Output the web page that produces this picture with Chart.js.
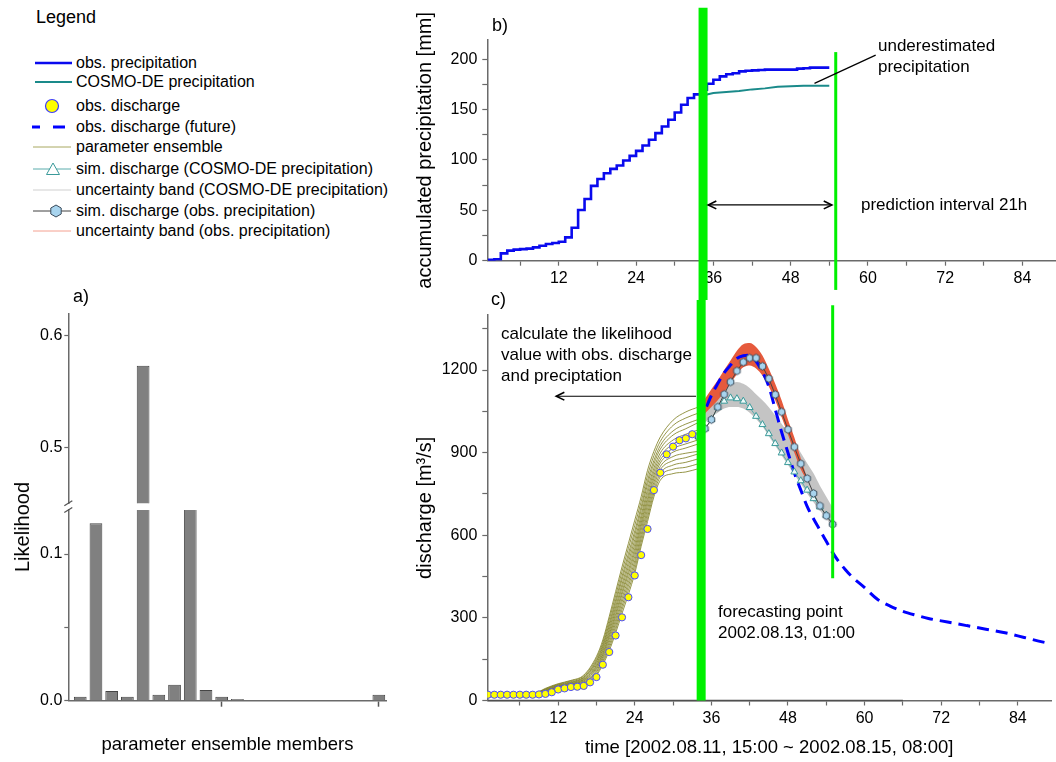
<!DOCTYPE html>
<html><head><meta charset="utf-8"><title>Parameter ensemble likelihood, precipitation and discharge forecast</title>
<script src="https://cdn.jsdelivr.net/npm/chart.js@4.4.1/dist/chart.umd.min.js"></script>
<style>
html,body{margin:0;padding:0;background:#fff;}
#wrap{position:relative;width:1056px;height:762px;overflow:hidden;font-family:'Liberation Sans',Arial,sans-serif;color:#000;}
#wrap canvas{position:absolute;}
.t{position:absolute;white-space:nowrap;font-size:17px;line-height:21px;}
.lg{position:absolute;left:76px;white-space:nowrap;font-size:16px;line-height:20px;}
.pl{position:absolute;white-space:nowrap;font-size:18px;line-height:21px;}
</style></head><body><div id="wrap">
<canvas id="cA1" width="400" height="226" style="left:0;top:290px"></canvas>
<canvas id="cA2" width="400" height="266" style="left:0;top:496px"></canvas>
<canvas id="cB" width="656" height="300" style="left:400px;top:0"></canvas>
<canvas id="cC" width="656" height="462" style="left:400px;top:300px"></canvas>

<svg width="80" height="245" style="position:absolute;left:0;top:0">
  <line x1="35" y1="63" x2="72" y2="63" stroke="#0a0aee" stroke-width="2.7"/>
  <line x1="35" y1="82" x2="72" y2="82" stroke="#1a8a8a" stroke-width="2"/>
  <circle cx="52" cy="106" r="6.5" fill="#ffff00" stroke="#3a3aff" stroke-width="1.2"/>
  <line x1="32" y1="127" x2="40" y2="127" stroke="#0000ff" stroke-width="3"/>
  <line x1="53" y1="127" x2="65" y2="127" stroke="#0000ff" stroke-width="3"/>
  <line x1="33" y1="147" x2="71" y2="147" stroke="#a8a860" stroke-width="1"/>
  <line x1="33" y1="169" x2="71" y2="169" stroke="#5aacac" stroke-width="1"/>
  <polygon points="53,163 46.5,174.5 59.5,174.5" fill="#ffffff" stroke="#3a9a9a" stroke-width="1"/>
  <line x1="33" y1="190" x2="71" y2="190" stroke="#cfcfcf" stroke-width="1"/>
  <line x1="33" y1="211" x2="71" y2="211" stroke="#404040" stroke-width="1"/>
  <polygon points="56,205 61.2,208 61.2,214 56,217 50.8,214 50.8,208" fill="#a8d4ee" stroke="#3a4a5a" stroke-width="1"/>
  <line x1="33" y1="231" x2="71" y2="231" stroke="#f4a090" stroke-width="1"/>
</svg>
<div class="pl" style="left:36px;top:7px">Legend</div>
<div class="lg" style="top:53px">obs. precipitation</div>
<div class="lg" style="top:72px">COSMO-DE precipitation</div>
<div class="lg" style="top:96px">obs. discharge</div>
<div class="lg" style="top:117px">obs. discharge (future)</div>
<div class="lg" style="top:137px">parameter ensemble</div>
<div class="lg" style="top:159px">sim. discharge (COSMO-DE precipitation)</div>
<div class="lg" style="top:180px">uncertainty band (COSMO-DE precipitation)</div>
<div class="lg" style="top:201px">sim. discharge (obs. precipitation)</div>
<div class="lg" style="top:221px">uncertainty band (obs. precipitation)</div>

<div class="pl" style="left:73px;top:286px">a)</div>
<div class="pl" style="left:492px;top:15px">b)</div>
<div class="pl" style="left:491px;top:289px">c)</div>
<div style="position:absolute;left:22px;top:527px;transform:translate(-50%,-50%) rotate(-90deg);font-size:20px;line-height:24px;white-space:nowrap">Likelihood</div>

<div class="t" style="left:878px;top:35px">underestimated<br>precipitation</div>
<div class="t" style="left:861px;top:194px">prediction interval 21h</div>
<div class="t" style="left:501px;top:323px">calculate the likelihood<br>value with obs. discharge<br>and preciptation</div>
<div class="t" style="left:718px;top:601px">forecasting point<br>2002.08.13, 01:00</div>
</div>
<script>
// ================= DATA =================
// panel a) likelihood of the parameter ensemble members
const members = [1,2,3,4,5,6,7,8,9,10,11,12,13,14,15,16,17,18,19,20];
const likelihood = [0.0027,0.121,0.0066,0.0027,0.573,0.0041,0.0109,0.265,0.0073,0.0027,0.0012,0,0,0,0,0,0,0,0,0.0041];
const likeTicksLow = [0, 0.05, 0.1];
const likeTickLabelsLow = ['0.0', '', '0.1'];
const likeTicksHigh = [0.5, 0.6];
const likeTickLabelsHigh = ['0.5', '0.6'];
const memberTicks = [10, 20];

// panel b) accumulated precipitation [mm] per hour
const precipHours = [1,2,3,4,5,6,7,8,9,10,11,12,13,14,15,16,17,18,19,20,21,22,23,24,25,26,27,28,29,30,31,32,33,34,35,36,37,38,39,40,41,42,43,44,45,46,47,48,49,50,51,52,53,54];
const precipObs = [1,1,1.5,7.3,10,11,11.5,12,13.2,14.9,16.5,17.5,18.8,23.1,32.7,50.3,61.2,74.2,81.1,86.8,91.1,94.4,99.4,104,109,114.3,120,126.6,133.2,139.8,147.1,154.8,161.4,165,169.7,175.6,179.6,182.9,185,186,187.9,188.5,188.9,189.3,189.6,189.6,189.6,189.6,189.6,190.6,191,191.6,191.6,191.6];
const cosmoHours = [34,35,36,38,40,42,44,46,48,50,52,54];
const cosmoPrecip = [164,165,166.5,167.5,168.5,170,171,172.5,173,173.5,173.5,173.5];
const precipTicks = [0,25,50,75,100,125,150,175,200];
const precipTickLabels = ['0','','50','','100','','150','','200'];

// panel c) discharge [m3/s]
const obsHours = [1,2,3,4,5,6,7,8,9,10,11,12,13,14,15,16,17,18,19,20,21,22,23,24,25,26,27,28,29,30,31,32,33];
const obsQ = [21,21,21,21,21,21,21,21,22,24,30,40,44,49,50,53,66,85,130,176,236,302,375,454,528,623,764,827,894,922,945,952,967];
const futureHours = [34,35,36,37,38,39,40,41,42,43,44,45,46,47,48,49,50,51,52,53,54,55,56,57,58,60,62,64,66,68,70,73,76,79,82,85,88,90];
const futureQ = [1005,1054,1108,1151,1190,1218,1242,1252,1254,1232,1193,1140,1058,975,900,826,765,705,660,619,578,537,503,475,450,410,368,343,324,310,298,285,272,259,246,229,212,203];
const ensHours = [1,8,9,10,12,14,16,18,19,20,21,22,23,24,25,26,27,28,30,32,34];
const ensembleMembers = [
  [21,22,32,44,61,73,92,160,220,305,395,485,570,655,740,836,905,957,1018,1048,1066],
  [21,22,31,42,59,71,89,153,211,293,380,468,552,636,722,817,889,941,999,1026,1044],
  [21,22,30,41,57,68,85,146,202,280,365,451,533,616,704,799,872,926,979,1004,1021],
  [21,22,29,39,55,66,83,141,195,270,353,438,518,601,690,784,859,913,964,987,1010],
  [21,22,28,38,53,64,80,135,187,259,340,422,502,584,673,767,844,899,946,967,983],
  [21,22,28,36,52,62,77,129,180,249,328,409,487,568,659,752,831,886,931,955,975],
  [21,22,27,35,50,60,75,124,172,239,316,395,472,553,645,737,818,874,915,932,947],
  [21,21,26,34,48,59,72,119,166,231,305,384,459,539,632,724,806,863,902,917,932],
  [21,21,25,32,47,57,70,114,159,221,293,370,444,524,618,710,793,850,886,898,905],
  [21,21,24,31,45,55,67,108,152,211,281,357,429,508,603,695,780,838,871,882,896],
  [21,21,24,30,43,53,64,103,144,201,269,343,415,493,589,680,766,825,855,865,878],
  [21,21,23,28,42,51,62,97,137,191,257,330,400,477,574,665,753,813,840,847,860],
  [21,21,22,27,40,49,59,92,130,181,245,316,385,462,560,650,740,800,824,830,842]
];
const simHours = [34,35,36,37,38,39,40,41,42,43,44,45,46,47,48,49,50,51,52,53,54,55];
const simObsQ = [958,987,1020,1066,1112,1157,1197,1229,1244,1244,1214,1169,1111,1048,984,921,860,806,752,707,671,640];
const simCosmoQ = [958,987,1020,1064,1087,1099,1096,1087,1064,1032,1002,969,933,899,864,830,798,764,733,703,673,645];
const bandCosmoHigh = [1040,1060,1078,1105,1130,1148,1157,1150,1135,1112,1090,1065,1035,1005,972,940,900,862,825,780,740,700];
const bandCosmoLow = [995,1010,1030,1045,1060,1066,1066,1060,1045,1022,995,960,925,890,855,820,787,752,720,690,660,628];
const bandObsHours = [34,35,36,37,38,39,40,41,42,43,44,45,46,47,48,49,50,51];
const bandObsHigh = [1060,1096,1130,1163,1200,1235,1270,1294,1298,1284,1253,1205,1150,1090,1020,955,880,808];
const bandObsLow = [1010,1042,1066,1090,1120,1151,1185,1210,1217,1206,1180,1140,1090,1030,966,900,840,798];
const zeroHours = [1, 66];
const zeroQ = [0, 0];
const qTicks = [0,150,300,450,600,750,900,1050,1200,1350];
const qTickLabels = ['0','','300','','600','','900','','1200',''];

// time axis (hours after 2002.08.11 15:00)
const hourTicks = [6,12,18,24,30,36,42,48,54,60,66,72,78,84];
const hourTickLabels = ['','12','','24','','36','','48','','60','','72','','84'];
const forecastHour = 34.4;     // forecasting point
const leadEndHour = 55;        // end of the 21 h prediction interval
const forecastRangeB = [-40, 251];
const leadEndRangeB = [-29, 207];
const forecastRangeC = [0, 1455];
const leadEndRangeC = [444, 1435];

// ================= DRAWING =================
Chart.defaults.font.family = "'Liberation Sans', Arial, sans-serif";
Chart.defaults.color = '#000';
const AX = '#6a6a6a';
const GREEN = '#00f000';
const HOUR_MIN = 0.9, HOUR_MAX = 89.2;
const xy = (xs, ys) => xs.map((x, i) => ({x: x, y: ys[i]}));

function hexImage(r) {
  const c = document.createElement('canvas');
  const s = Math.ceil(2 * r + 3);
  c.width = s; c.height = s;
  const g = c.getContext('2d');
  g.beginPath();
  for (let i = 0; i < 6; i++) {
    const a = Math.PI / 6 + i * Math.PI / 3;
    const px = s / 2 + r * Math.cos(a), py = s / 2 + r * Math.sin(a);
    if (i) g.lineTo(px, py); else g.moveTo(px, py);
  }
  g.closePath();
  g.fillStyle = '#a8d4ee'; g.fill();
  g.strokeStyle = '#3a4a5a'; g.lineWidth = 1; g.stroke();
  return c;
}

const arrowPlugin = {
  id: 'arrows',
  afterDraw(chart, args, opts) {
    const ctx = chart.ctx, xs = chart.scales.x, ys = chart.scales.y;
    (opts.items || []).forEach(a => {
      const x1 = xs.getPixelForValue(a.from[0]), y1 = ys.getPixelForValue(a.from[1]);
      const x2 = xs.getPixelForValue(a.to[0]), y2 = ys.getPixelForValue(a.to[1]);
      ctx.save();
      ctx.strokeStyle = '#000'; ctx.lineWidth = 1.2;
      ctx.beginPath(); ctx.moveTo(x1, y1); ctx.lineTo(x2, y2); ctx.stroke();
      const head = (x, y, ang) => {
        ctx.beginPath();
        ctx.moveTo(x - 9 * Math.cos(ang - 0.45), y - 9 * Math.sin(ang - 0.45));
        ctx.lineTo(x, y);
        ctx.lineTo(x - 9 * Math.cos(ang + 0.45), y - 9 * Math.sin(ang + 0.45));
        ctx.lineWidth = 1.6; ctx.stroke();
      };
      const ang = Math.atan2(y2 - y1, x2 - x1);
      if (a.head === 'end' || a.head === 'both') head(x2, y2, ang);
      if (a.head === 'both') head(x1, y1, ang + Math.PI);
      ctx.restore();
    });
  }
};

const breakPlugin = {
  id: 'axisBreak',
  afterDraw(chart, args, opts) {
    if (!opts.edge) return;
    const ctx = chart.ctx, area = chart.chartArea;
    const y = opts.edge === 'top' ? area.top : area.bottom;
    ctx.save();
    ctx.strokeStyle = '#555'; ctx.lineWidth = 1.3;
    ctx.beginPath();
    ctx.moveTo(area.left - 4, y + 2.5); ctx.lineTo(area.left + 4, y - 2.5);
    ctx.stroke();
    ctx.restore();
  }
};

function tickAxisBase(ticks, labels, pad, fontSize, tickLen) {
  return {
    offset: false,
    afterBuildTicks: s => { s.ticks = ticks.map(v => ({value: v})); },
    ticks: {autoSkip: false, maxRotation: 0, padding: pad, font: {size: fontSize}, color: '#000',
      callback: v => { const i = ticks.indexOf(v); return i < 0 ? '' : labels[i]; }},
    grid: {display: true, offset: false, drawOnChartArea: false, drawTicks: true, tickLength: tickLen || 5, tickColor: AX, tickWidth: 1.2},
    border: {display: true, color: AX, width: 1.5}
  };
}

function hourAxis(height, title) {
  const a = tickAxisBase(hourTicks, hourTickLabels, 3, 16);
  a.type = 'linear'; a.min = HOUR_MIN; a.max = HOUR_MAX;
  a.afterFit = s => { s.height = height; };
  if (title) a.title = {display: true, text: title, font: {size: 18.5}, padding: {top: 0, bottom: 3}};
  return a;
}

const commonOpts = {responsive: false, animation: false, events: []};

// ---------- panel a) likelihood bars, broken y axis ----------
const barData = members.map((m, i) => ({x: m, y: likelihood[i]}));
function barDataset() {
  return {data: barData, backgroundColor: '#808080', borderColor: '#454545', borderWidth: 1,
    barPercentage: 0.81, categoryPercentage: 1, clip: 0};
}
function memberAxis(show) {
  const a = tickAxisBase(memberTicks, ['', ''], 2, 16, 6);
  a.type = 'linear'; a.min = 0.24; a.max = 20.5; a.offset = false;
  a.grid.tickColor = '#555'; a.grid.tickWidth = 1.5;
  if (!show) { a.display = false; }
  else {
    a.afterFit = s => { s.height = 61.3; };
    a.title = {display: true, text: 'parameter ensemble members', font: {size: 18.5}, padding: {top: 0, bottom: 5.9}};
  }
  return a;
}
new Chart(document.getElementById('cA1'), {
  type: 'bar',
  data: {datasets: [barDataset()]},
  options: Object.assign({}, commonOpts, {
    layout: {padding: {top: 23.3, bottom: 12.7, left: 0, right: 13.3}},
    plugins: {legend: {display: false}, tooltip: {enabled: false}, axisBreak: {edge: 'bottom'}},
    scales: {
      x: memberAxis(false),
      y: Object.assign(tickAxisBase(likeTicksHigh, likeTickLabelsHigh, 2, 16, 4), {
        min: 0.45, max: 0.62, afterFit: s => { s.width = 68.3; }})
    }
  }),
  plugins: [breakPlugin]
});
new Chart(document.getElementById('cA2'), {
  type: 'bar',
  data: {datasets: [barDataset()]},
  options: Object.assign({}, commonOpts, {
    layout: {padding: {top: 14, bottom: 0, left: 0, right: 13.3}},
    plugins: {legend: {display: false}, tooltip: {enabled: false}, axisBreak: {edge: 'top'}},
    scales: {
      x: memberAxis(true),
      y: Object.assign(tickAxisBase(likeTicksLow, likeTickLabelsLow, 2, 16, 4), {
        min: 0, max: 0.13, afterFit: s => { s.width = 68.3; }})
    }
  }),
  plugins: [breakPlugin]
});

// ---------- panel b) accumulated precipitation ----------
new Chart(document.getElementById('cB'), {
  type: 'line',
  data: {datasets: [
    {label: 'forecasting point', data: xy([forecastHour, forecastHour], forecastRangeB), borderColor: GREEN, borderWidth: 9, pointRadius: 0, clip: false, order: 0},
    {label: 'prediction end', data: xy([leadEndHour, leadEndHour], leadEndRangeB), borderColor: GREEN, borderWidth: 3, pointRadius: 0, clip: false, order: 0},
    {label: 'COSMO-DE precipitation', data: xy(cosmoHours, cosmoPrecip), borderColor: '#1a8a8a', borderWidth: 2, pointRadius: 0, order: 2},
    {label: 'obs. precipitation', data: xy(precipHours, precipObs), borderColor: '#0a0aee', borderWidth: 2.6, pointRadius: 0, stepped: 'after', order: 3}
  ]},
  options: Object.assign({}, commonOpts, {
    layout: {padding: {top: 40, left: 0, right: 0, bottom: 0}},
    plugins: {legend: {display: false}, tooltip: {enabled: false},
      arrows: {items: [
        {from: [35.2, 55.3], to: [54.4, 55.3], head: 'both'},
        {from: [51.7, 176], to: [61.2, 204], head: 'none'}
      ]}},
    scales: {
      x: hourAxis(39.3),
      y: Object.assign(tickAxisBase(precipTicks, precipTickLabels, 5, 16), {
        min: 0, max: 219, afterFit: s => { s.width = 87.3; },
        title: {display: true, text: 'accumulated precipitation [mm]', font: {size: 20}, padding: {top: 13, bottom: 0}}})
    }
  }),
  plugins: [arrowPlugin]
});

// ---------- panel c) discharge ----------
const hexPt = hexImage(3.8);
const cDatasets = [
  {label: 'forecasting point', data: xy([forecastHour, forecastHour], forecastRangeC), borderColor: GREEN, borderWidth: 9, pointRadius: 0, clip: false, order: 0},
  {label: 'prediction end', data: xy([leadEndHour, leadEndHour], leadEndRangeC), borderColor: GREEN, borderWidth: 3, pointRadius: 0, clip: false, order: 0},
  {label: 'obs. discharge', data: xy(obsHours, obsQ), showLine: false, pointRadius: 3.6, pointBackgroundColor: '#ffff00', pointBorderColor: '#4a4aff', pointBorderWidth: 1, order: 1},
  {label: 'sim. discharge (obs. precipitation)', data: xy(simHours, simObsQ), borderColor: '#454545', borderWidth: 1, pointStyle: hexPt, pointRadius: 4, order: 2},
  {label: 'sim. discharge (COSMO-DE precipitation)', data: xy(simHours, simCosmoQ), borderColor: '#5aacac', borderWidth: 1, pointStyle: 'triangle', pointRadius: 4, pointBackgroundColor: '#eefafa', pointBorderColor: '#3a9a9a', pointBorderWidth: 1, order: 3},
  {label: 'obs. discharge (future)', data: xy(futureHours, futureQ), borderColor: '#0000ff', borderWidth: 3, borderDash: [12, 7], pointRadius: 0, cubicInterpolationMode: 'monotone', order: 4},
  {label: 'zero', data: xy(zeroHours, zeroQ), borderColor: '#505050', borderWidth: 1.5, pointRadius: 0, clip: false, order: 5},
  {label: 'uncertainty band (obs. precipitation)', data: xy(bandObsHours, bandObsHigh), borderColor: 'rgba(0,0,0,0)', borderWidth: 1, pointRadius: 0, cubicInterpolationMode: 'monotone', backgroundColor: '#e65a3c', fill: '+1', order: 7},
  {label: 'band obs low', data: xy(bandObsHours, bandObsLow), borderColor: 'rgba(0,0,0,0)', borderWidth: 1, pointRadius: 0, cubicInterpolationMode: 'monotone', fill: false, order: 7},
  {label: 'uncertainty band (COSMO-DE precipitation)', data: xy(simHours, bandCosmoHigh), borderColor: 'rgba(0,0,0,0)', borderWidth: 1, pointRadius: 0, cubicInterpolationMode: 'monotone', backgroundColor: '#c4c4c4', fill: '+1', order: 8},
  {label: 'band cosmo low', data: xy(simHours, bandCosmoLow), borderColor: 'rgba(0,0,0,0)', borderWidth: 1, pointRadius: 0, cubicInterpolationMode: 'monotone', fill: false, order: 8}
];
ensembleMembers.forEach((vals, k) => {
  cDatasets.push({label: 'parameter ensemble ' + (k + 1), data: xy(ensHours, vals), borderColor: 'rgba(130,130,40,0.85)', borderWidth: 1, pointRadius: 0, cubicInterpolationMode: 'monotone', order: 6});
});

new Chart(document.getElementById('cC'), {
  type: 'line',
  data: {datasets: cDatasets},
  options: Object.assign({}, commonOpts, {
    layout: {padding: {top: 15, left: 0, right: 0, bottom: 0}},
    plugins: {legend: {display: false}, tooltip: {enabled: false},
      arrows: {items: [{from: [33.6, 1105], to: [11.7, 1105], head: 'end'}]}},
    scales: {
      x: hourAxis(61.5, 'time [2002.08.11, 15:00 ~ 2002.08.15, 08:00]'),
      y: Object.assign(tickAxisBase(qTicks, qTickLabels, 5, 16), {
        min: 0, max: 1400, afterFit: s => { s.width = 87.3; },
        title: {display: true, text: 'discharge [m\u00b3/s]', font: {size: 20}, padding: {top: 13, bottom: 0}}})
    }
  }),
  plugins: [arrowPlugin]
});
</script>
</body></html>
